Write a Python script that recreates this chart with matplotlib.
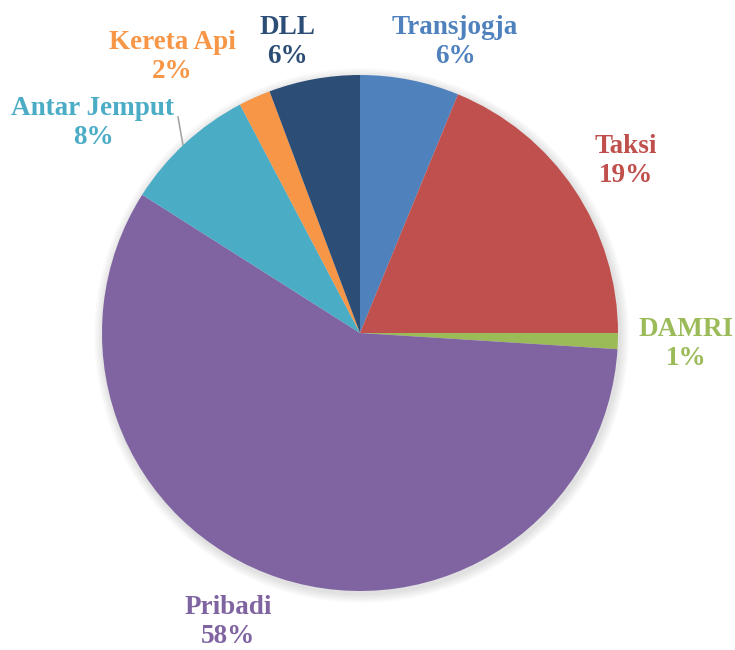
import numpy as np
import matplotlib.pyplot as plt
from matplotlib.patches import Circle

labels = ['Transjogja', 'Taksi', 'DAMRI', 'Pribadi', 'Antar Jemput', 'Kereta Api', 'DLL']
shares = [6.2, 18.8, 1.0, 58.0, 8.3, 2.0, 5.7]
colors = ['#4F81BD', '#C0504D', '#9BBB59', '#8064A2', '#4BACC6', '#F79646', '#2C4D75']
# label centres (data units, pie radius = 1)
label_pos = [(0.368, 1.128), (1.031, 0.666), (1.264, -0.043), (-0.512, -1.120),
             (-1.035, 0.814), (-0.729, 1.070), (-0.283, 1.128)]

plt.rcParams['font.family'] = ['Liberation Serif', 'DejaVu Serif']

fig = plt.figure(figsize=(7.35, 6.5), dpi=100)
ax = fig.add_axes([0, 0, 1, 1])
ax.set_aspect('equal')
ax.axis('off')

# soft shadow under the pie
for i in range(6):
    ax.add_patch(Circle((0.006, -0.01), 1.0 + 0.006 * (i + 1), color='black',
                        alpha=0.018, lw=0, zorder=0))

wedges, _ = ax.pie(shares, colors=colors, startangle=90, counterclock=False,
                   radius=1.0, wedgeprops=dict(linewidth=0), frame=False)
for w in wedges:
    w.set_zorder(2)
ax.set_xlim(-360 / 258, 375 / 258)
ax.set_ylim(-317 / 258, 333 / 258)

for name, val, col, (x, y) in zip(labels, shares, colors, label_pos):
    ax.text(x, y, '%s\n%d%%' % (name, round(val)), color=col, fontsize=19.5,
            fontweight='bold', ha='center', va='center', linespacing=1.2, zorder=3)

# leader line for Antar Jemput
ax.plot([(178 - 360) / 258, (183 - 360) / 258], [(333 - 117) / 258, (333 - 145) / 258],
        color='#A6A6A6', lw=1.2, zorder=1)

fig.savefig('out.png', dpi=100)
